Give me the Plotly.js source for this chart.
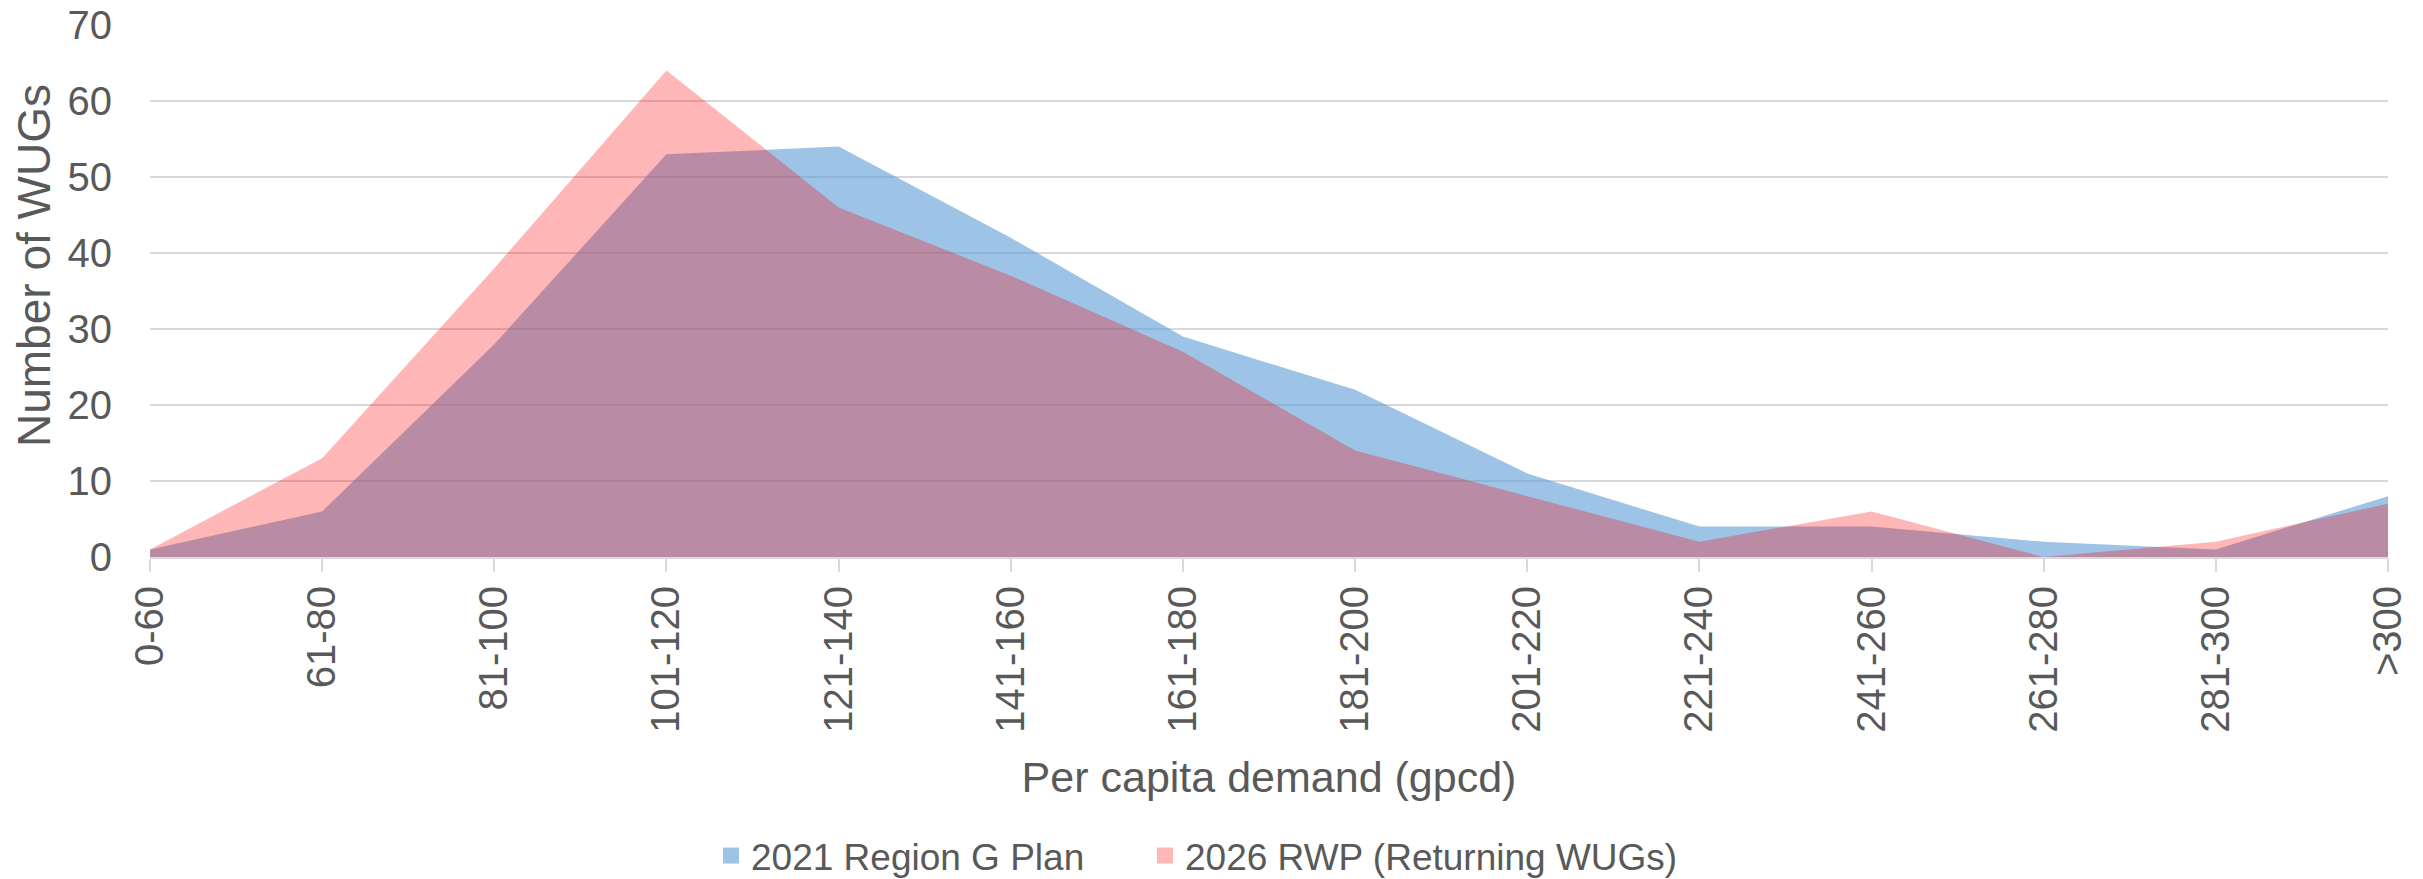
<!DOCTYPE html>
<html>
<head>
<meta charset="utf-8">
<script src="https://cdn.plot.ly/plotly-3.0.1.min.js"></script>
<style>
  html, body { margin: 0; padding: 0; background: #ffffff; }
  #chart { width: 2423px; height: 879px; }
</style>
</head>
<body>
<div id="chart"></div>
<script>
// ---- Data ----
const categories = ['0-60', '61-80', '81-100', '101-120', '121-140', '141-160', '161-180',
                    '181-200', '201-220', '221-240', '241-260', '261-280', '281-300', '>300'];
const plan2021 = [1, 6, 28, 53, 54, 42, 29, 22, 11, 4, 4, 2, 1, 8];
const rwp2026  = [1, 13, 38, 64, 46, 37, 27, 14, 8, 2, 6, 0, 2, 7];
const seriesNames = ['2021 Region G Plan', '2026 RWP (Returning WUGs)'];
const yTicks = [0, 10, 20, 30, 40, 50, 60, 70];
const xTitle = 'Per capita demand (gpcd)';
const yTitle = 'Number of WUGs';

// ---- Styling ----
const FONT = '"Liberation Sans", Arial, "DejaVu Sans", sans-serif';
const TEXT = '#595959';
const GRID = '#d9d9d9';
const BLUE_FILL = 'rgba(91,155,213,0.6)';
const PINK_FILL = 'rgba(255,0,0,0.285)';
const BLUE_KEY = '#9dc3e6';
const PINK_KEY = '#ffb6b6';

const W = 2423, H = 879;
const M = { l: 150, r: 35, t: 25, b: 322, autoexpand: false };
const plotW = W - M.l - M.r;
const plotH = H - M.t - M.b;
const px2x = p => (p - M.l) / plotW;
const px2y = p => (H - M.b - p) / plotH;

const traces = [
  { type: 'scatter', x: categories, y: plan2021, name: seriesNames[0],
    mode: 'none', fill: 'tozeroy', fillcolor: BLUE_FILL, showlegend: false, hoverinfo: 'skip' },
  { type: 'scatter', x: categories, y: rwp2026, name: seriesNames[1],
    mode: 'none', fill: 'tozeroy', fillcolor: PINK_FILL, showlegend: false, hoverinfo: 'skip' },
  // legend keys (no plotted points)
  { type: 'scatter', x: [null], y: [null], name: seriesNames[0],
    mode: 'markers', marker: { symbol: 'square', size: 16, color: BLUE_KEY }, showlegend: true, legend: 'legend' },
  { type: 'scatter', x: [null], y: [null], name: seriesNames[1],
    mode: 'markers', marker: { symbol: 'square', size: 16, color: PINK_KEY }, showlegend: true, legend: 'legend2' }
];

const legendBase = {
  orientation: 'h', yanchor: 'bottom', xanchor: 'left',
  y: px2y(887),
  font: { family: FONT, size: 37, color: TEXT },
  bgcolor: 'rgba(0,0,0,0)', borderwidth: 0, itemsizing: 'trace'
};

const layout = {
  width: W, height: H, margin: M,
  paper_bgcolor: '#ffffff', plot_bgcolor: '#ffffff',
  font: { family: FONT, color: TEXT }, hovermode: false,
  xaxis: {
    type: 'category', categoryorder: 'array', categoryarray: categories,
    range: [0, categories.length - 1],
    showgrid: false, zeroline: false,
    showline: true, linecolor: GRID, linewidth: 2,
    ticks: 'outside', ticklen: 13, tickwidth: 2, tickcolor: GRID,
    tickangle: -90, tickfont: { family: FONT, size: 40, color: TEXT },
    ticklabelstandoff: -2, automargin: false,
    title: { text: xTitle, font: { family: FONT, size: 43, color: TEXT }, standoff: 30 }
  },
  yaxis: {
    range: [0, 70], tickvals: yTicks,
    showgrid: true, gridcolor: GRID, gridwidth: 2,
    zeroline: false, showline: false, ticks: '',
    tickfont: { family: FONT, size: 40, color: TEXT },
    ticklabelstandoff: 37, automargin: false,
    title: { text: '' }
  },
  annotations: [{
    text: yTitle, textangle: -90, xref: 'paper', yref: 'paper',
    x: px2x(34), y: px2y(266), xanchor: 'center', yanchor: 'middle',
    showarrow: false, font: { family: FONT, size: 46, color: TEXT }
  }],
  legend: Object.assign({}, legendBase, { x: px2x(711) }),
  legend2: Object.assign({}, legendBase, { x: px2x(1145) })
};

Plotly.newPlot('chart', traces, layout, { staticPlot: true, displayModeBar: false });
</script>
</body>
</html>
